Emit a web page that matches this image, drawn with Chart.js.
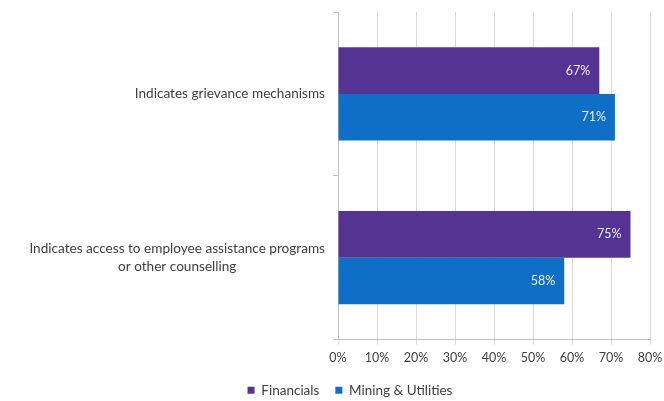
<!DOCTYPE html>
<html>
<head>
<meta charset="utf-8">
<script src="https://cdn.jsdelivr.net/npm/chart.js@4"></script>
<style>
    html, body { margin: 0; padding: 0; background: #ffffff; }
    #wrap { width: 664px; height: 401px; }
</style>
</head>
<body>
<div id="wrap"><canvas id="chart"></canvas></div>
<script>
const categories = [
    ["Indicates grievance mechanisms"],
    ["Indicates access to employee assistance programs", "or other counselling"]
];
const seriesNames = ["Financials", "Mining & Utilities"];
const financials = [67, 75];
const miningUtilities = [71, 58];
const xTicks = [0, 10, 20, 30, 40, 50, 60, 70, 80];

const FONT = "Lato, 'Open Sans', sans-serif";
const TEXT = "#404040";

// category labels: block right-aligned against the axis, lines centred inside the block
const categoryLabels = {
    id: "categoryLabels",
    afterDraw(chart) {
        const ctx = chart.ctx;
        const yScale = chart.scales.y;
        const right = chart.chartArea.left - 13;
        ctx.save();
        ctx.font = "13.6px " + FONT;
        ctx.fillStyle = TEXT;
        ctx.textBaseline = "middle";
        ctx.textAlign = "center";
        const lineH = 18;
        categories.forEach((lines, i) => {
            const y = yScale.getPixelForValue(i);
            const widest = Math.max(...lines.map((l) => ctx.measureText(l).width));
            const cx = right - widest / 2;
            const top = y - (lines.length - 1) * lineH / 2;
            lines.forEach((line, j) => ctx.fillText(line, cx, top + j * lineH));
        });
        ctx.restore();
    }
};

// value labels inside the end of each bar
const valueLabels = {
    id: "valueLabels",
    afterDatasetsDraw(chart) {
        const ctx = chart.ctx;
        ctx.save();
        ctx.font = "12.5px " + FONT;
        ctx.fillStyle = "#eeeef8";
        ctx.textAlign = "right";
        ctx.textBaseline = "middle";
        chart.data.datasets.forEach((ds, di) => {
            chart.getDatasetMeta(di).data.forEach((bar, i) => {
                ctx.fillText(ds.data[i] + "%", bar.x - 9, bar.y);
            });
        });
        ctx.restore();
    }
};

new Chart(document.getElementById("chart"), {
    type: "bar",
    data: {
        labels: categories.map((c) => c.join(" ")),
        datasets: [
            {
                label: seriesNames[0],
                data: financials,
                backgroundColor: "#553393",
                categoryPercentage: 0.57,
                barPercentage: 1
            },
            {
                label: seriesNames[1],
                data: miningUtilities,
                backgroundColor: "#0f6fc6",
                categoryPercentage: 0.57,
                barPercentage: 1
            }
        ]
    },
    options: {
        indexAxis: "y",
        responsive: true,
        maintainAspectRatio: false,
        animation: false,
        layout: { padding: { top: 12, left: 50, right: 14, bottom: -6 } },
        scales: {
            x: {
                min: 0,
                max: 80,
                afterBuildTicks: (scale) => { scale.ticks = xTicks.map((v) => ({ value: v })); },
                afterFit: (scale) => {
                    scale.height -= 4;
                    scale.paddingLeft = 0;
                    scale.paddingRight = 0;
                },
                ticks: {
                    callback: (v) => v + "%",
                    color: TEXT,
                    font: { family: FONT, size: 12.5 },
                    padding: 6,
                    maxRotation: 0
                },
                grid: { color: "#d9d9d9", lineWidth: 1, tickLength: 5 },
                border: { color: "#bfbfbf" }
            },
            y: {
                ticks: { display: false },
                grid: { drawOnChartArea: false, tickLength: 5, color: "#bfbfbf" },
                border: { color: "#bfbfbf" },
                afterFit: (scale) => { scale.width = 288; }
            }
        },
        plugins: {
            legend: {
                position: "bottom",
                labels: {
                    boxWidth: 7,
                    boxHeight: 7,
                    color: TEXT,
                    font: { family: FONT, size: 13.5 },
                    padding: 16
                }
            },
            tooltip: { enabled: false }
        }
    },
    plugins: [categoryLabels, valueLabels]
});
</script>
</body>
</html>
